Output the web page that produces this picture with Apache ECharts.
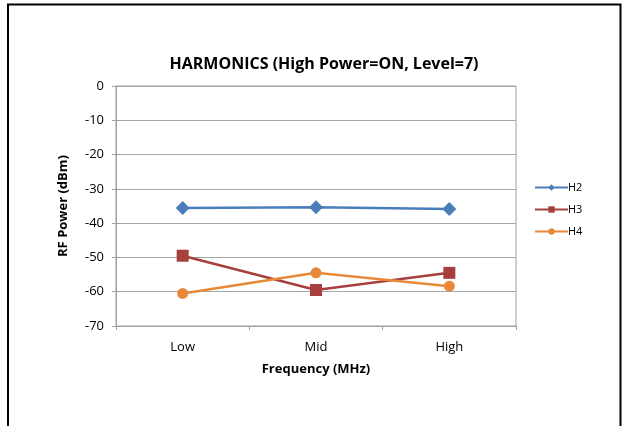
<!DOCTYPE html>
<html>
<head>
<meta charset="utf-8">
<script src="https://cdn.jsdelivr.net/npm/echarts@6/dist/echarts.min.js"></script>
<style>
  html, body { margin: 0; padding: 0; background: #fff; }
  #chart { width: 623px; height: 426px; }
</style>
</head>
<body>
<div id="chart"></div>
<script>
// values
const categories = ['Low', 'Mid', 'High'];
const h2 = [-35.6, -35.4, -35.9];
const h3 = [-49.5, -59.5, -54.5];
const h4 = [-60.5, -54.5, -58.4];

const font = '"Open Sans", "Liberation Sans", sans-serif';
const chart = echarts.init(document.getElementById('chart'));

const mkSeries = (name, data, color, symbol, size) => ({
  name,
  type: 'line',
  data,
  symbol,
  symbolSize: size,
  itemStyle: { color },
  lineStyle: { color, width: 2.5 },
  emphasis: { disabled: true }
});

chart.setOption({
  animation: false,
  backgroundColor: '#fff',
  title: {
    text: 'HARMONICS (High Power=ON, Level=7)',
    left: 319,
    textAlign: 'center',
    top: 51,
    textStyle: { fontFamily: font, fontSize: 16, fontWeight: 'bold', color: '#000' }
  },
  legend: {
    orient: 'vertical',
    left: 529,
    top: 177,
    itemGap: 11,
    itemWidth: 33,
    itemHeight: 8,
    textStyle: { fontFamily: font, fontSize: 11, color: '#000', padding: [0, 0, 0, -5] },
    data: ['H2', 'H3', 'H4']
  },
  grid: { left: 116, right: 107, top: 86, bottom: 100, show: true, borderColor: '#a0a0a0', borderWidth: 1 },
  xAxis: {
    type: 'category',
    data: categories,
    boundaryGap: true,
    name: 'Frequency (MHz)',
    nameLocation: 'middle',
    nameGap: 37,
    nameTextStyle: { fontFamily: font, fontSize: 13, fontWeight: 'bold', color: '#000' },
    axisLine: { onZero: false, lineStyle: { color: '#a0a0a0', width: 1 } },
    axisTick: { show: true, length: 4, lineStyle: { color: '#a0a0a0' } },
    axisLabel: { fontFamily: font, fontSize: 13, color: '#000', margin: 15 },
    splitLine: { show: false }
  },
  yAxis: {
    type: 'value',
    min: -70,
    max: 0,
    interval: 10,
    name: 'RF Power (dBm)',
    nameLocation: 'middle',
    nameGap: 46,
    nameTextStyle: { fontFamily: font, fontSize: 13, fontWeight: 'bold', color: '#000' },
    axisLine: { show: true, lineStyle: { color: '#a0a0a0', width: 1 } },
    axisTick: { show: true, length: 4, inside: false, lineStyle: { color: '#a0a0a0' } },
    axisLabel: { fontFamily: font, fontSize: 13, color: '#000', margin: 12 },
    splitLine: { lineStyle: { color: '#a6a6a6', width: 1 } }
  },
  graphic: [{
    type: 'polyline',
    shape: { points: [[8, 426], [8, 4.5], [620.5, 4.5], [620.5, 426]] },
    style: { stroke: '#000', lineWidth: 2, fill: null },
    silent: true
  }],
  series: [
    mkSeries('H2', h2, '#4a7ebb', 'diamond', 14),
    mkSeries('H3', h3, '#a7403d', 'rect', 12),
    mkSeries('H4', h4, '#e8893a', 'circle', 11)
  ]
});
</script>
</body>
</html>
